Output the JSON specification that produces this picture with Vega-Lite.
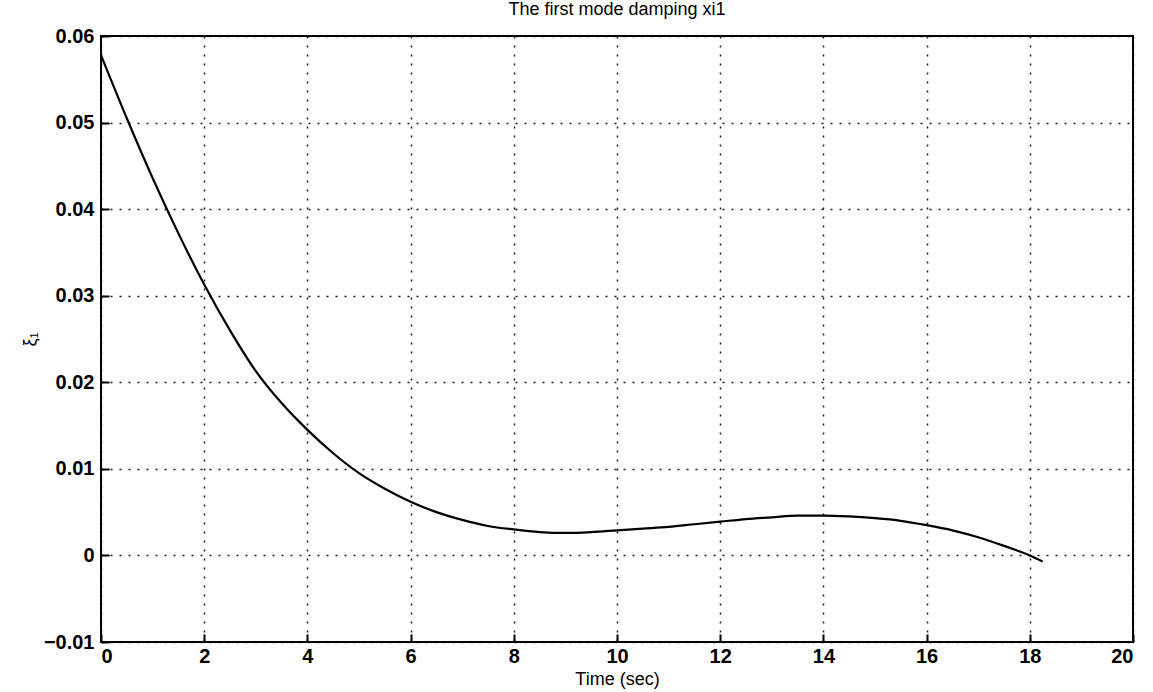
{
  "$schema": "https://vega.github.io/schema/vega-lite/v6.json",
  "width": 1032,
  "height": 606,
  "autosize": {"type": "none"},
  "padding": {"left": 101, "top": 36, "right": 20, "bottom": 50},
  "background": "white",
  "title": {"text": "The first mode damping xi1", "font": "Liberation Sans", "fontSize": 18, "fontWeight": "normal", "color": "black", "offset": 7},
  "config": {
    "view": {"stroke": "black", "strokeWidth": 2},
    "axis": {
      "labelFont": "Liberation Sans", "labelFontSize": 20, "labelFontWeight": "bold", "labelColor": "black",
      "titleFont": "Liberation Sans", "titleFontSize": 18, "titleFontWeight": "normal", "titleColor": "black",
      "grid": true, "gridColor": "black", "gridDash": [2, 7], "gridWidth": 1.5, "gridOpacity": 0.9,
      "domain": false, "ticks": true, "tickColor": "black", "tickSize": -8, "tickWidth": 2
    }
  },
  "data": {"values": [
    {"t": 0, "xi": 0.0578}, {"t": 0.5, "xi": 0.0505}, {"t": 1, "xi": 0.0436}, {"t": 1.5, "xi": 0.0372},
    {"t": 2, "xi": 0.0313}, {"t": 2.5, "xi": 0.0260}, {"t": 3, "xi": 0.0213}, {"t": 3.5, "xi": 0.0176},
    {"t": 4, "xi": 0.0145}, {"t": 4.5, "xi": 0.0118}, {"t": 5, "xi": 0.0095}, {"t": 5.5, "xi": 0.0077},
    {"t": 6, "xi": 0.0062}, {"t": 6.5, "xi": 0.0050}, {"t": 7, "xi": 0.0041}, {"t": 7.5, "xi": 0.0034},
    {"t": 8, "xi": 0.0030}, {"t": 8.5, "xi": 0.0027}, {"t": 9, "xi": 0.0026}, {"t": 9.5, "xi": 0.0027},
    {"t": 10, "xi": 0.0029}, {"t": 10.5, "xi": 0.0031}, {"t": 11, "xi": 0.0033}, {"t": 11.5, "xi": 0.0036},
    {"t": 12, "xi": 0.0039}, {"t": 12.5, "xi": 0.0042}, {"t": 13, "xi": 0.0044}, {"t": 13.5, "xi": 0.0046},
    {"t": 14, "xi": 0.0046}, {"t": 14.5, "xi": 0.0045}, {"t": 15, "xi": 0.0043}, {"t": 15.5, "xi": 0.0040},
    {"t": 16, "xi": 0.0035}, {"t": 16.5, "xi": 0.0029}, {"t": 17, "xi": 0.0021}, {"t": 17.5, "xi": 0.0011},
    {"t": 18, "xi": 0.0000}, {"t": 18.25, "xi": -0.0007}
  ]},
  "mark": {"type": "line", "color": "black", "strokeWidth": 2.2, "interpolate": "monotone"},
  "encoding": {
    "x": {"field": "t", "type": "quantitative", "title": "Time (sec)", "titlePadding": 2,
      "scale": {"domain": [0, 20], "nice": false, "zero": false},
      "axis": {"values": [0, 2, 4, 6, 8, 10, 12, 14, 16, 18, 20], "labelPadding": 12, "format": "d"}},
    "y": {"field": "xi", "type": "quantitative", "title": "ξ₁", "titleFontSize": 22, "titlePadding": 22,
      "scale": {"domain": [-0.01, 0.06], "nice": false, "zero": false},
      "axis": {"values": [-0.01, 0, 0.01, 0.02, 0.03, 0.04, 0.05, 0.06], "labelPadding": 15, "labelExpr": "datum.value == 0 ? '0' : format(datum.value, '.2f')"}}
  }
}
